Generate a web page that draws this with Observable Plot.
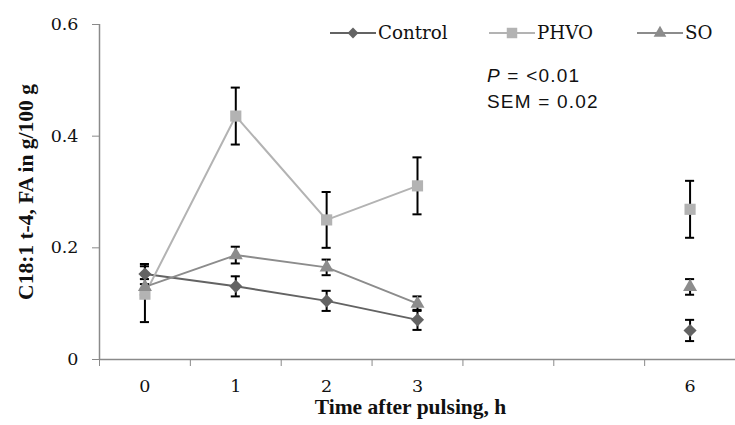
<!DOCTYPE html>
<html>
<head>
<meta charset="utf-8">
<script src="https://cdn.jsdelivr.net/npm/d3@7"></script>
<script src="https://cdn.jsdelivr.net/npm/@observablehq/plot@0.6"></script>
<style>
  body { margin: 0; background: #fff; }
  #wrap { position: relative; width: 735px; height: 425px; font-family: "DejaVu Serif", serif; }
  #wrap svg { display: block; }
  g[aria-label="y-axis label"] text {
    font-weight: bold; font-family: "Liberation Serif", serif; font-size: 21.5px;
  }
  .legend { position: absolute; top: 0; left: 0; font-size: 18.3px; color: #111; }
  .legend .item { position: absolute; top: 22px; display: flex; align-items: center; white-space: nowrap; }
  .legend svg { margin-right: 2px; }
  .note { position: absolute; left: 487px; top: 63px; font-family: "Liberation Sans", Arial, sans-serif;
          font-size: 19px; letter-spacing: 1.2px; line-height: 26px; color: #111; }
</style>
</head>
<body>
<div id="wrap"></div>
<script>
const hours = [0, 1, 2, 3, 6];
const controlMean = [0.153, 0.131, 0.105, 0.071, 0.052];
const controlSE   = [0.018, 0.018, 0.018, 0.018, 0.019];
const phvoMean    = [0.117, 0.436, 0.250, 0.311, 0.269];
const phvoSE      = [0.050, 0.051, 0.050, 0.051, 0.051];
const soMean      = [0.130, 0.187, 0.165, 0.100, 0.130];
const soSE        = [0.014, 0.015, 0.014, 0.013, 0.014];
const xTickLabels = [0, 1, 2, 3, 6];
const yTicks = [0, 0.2, 0.4, 0.6];
const xTitle = "Time after pulsing, h";
const yTitle = "C18:1 t-4, FA in g/100 g";
const seriesNames = ["Control", "PHVO", "SO"];
const seriesColors = ["#636363", "#b3b3b3", "#8c8c8c"];
const seriesSymbols = ["diamond2", "square", "triangle"];

const mk = (mean, se, name) => hours.map((h, i) => ({x: h, y: mean[i], se: se[i], series: name}));
const control = mk(controlMean, controlSE, "Control");
const phvo = mk(phvoMean, phvoSE, "PHVO");
const so = mk(soMean, soSE, "SO");
const all = [...control, ...phvo, ...so];
const connected = d => d.x <= 3;

const capHalf = 0.05;

const plot = Plot.plot({
  width: 735,
  height: 425,
  marginLeft: 99,
  marginRight: 0,
  marginTop: 24,
  marginBottom: 66,
  style: {fontFamily: "DejaVu Serif, serif", fontSize: "17.5px", color: "#111", background: "#fff"},
  x: {domain: [-0.5, 6.5]},
  y: {domain: [0, 0.6]},
  marks: [
    Plot.ruleY([0], {stroke: "#8a8a8a", strokeWidth: 1.5}),
    Plot.ruleX([-0.5], {stroke: "#8a8a8a", strokeWidth: 1.5}),
    Plot.axisY({ticks: yTicks, tickSize: 7, tickPadding: 14, stroke: "#8a8a8a",
      tickFormat: d => d === 0 ? "0" : d.toFixed(1),
      label: yTitle, labelAnchor: "center", labelArrow: "none", labelOffset: 82}),
    Plot.axisX({ticks: d3.range(-0.5, 7, 1), tickSize: 7, stroke: "#8a8a8a", tickFormat: () => "", label: null}),
    Plot.axisX({ticks: xTickLabels, tickSize: 0, tickPadding: 20, tickFormat: d => String(d), label: null}),
    Plot.text([xTitle], {text: d => d, frameAnchor: "bottom", dx: -7, dy: 54,
      fontFamily: "Liberation Serif, serif", fontSize: 21.5, fontWeight: "bold", fill: "#111"}),
    Plot.line(control.filter(connected), {x: "x", y: "y", stroke: seriesColors[0], strokeWidth: 2}),
    Plot.line(phvo.filter(connected), {x: "x", y: "y", stroke: seriesColors[1], strokeWidth: 2}),
    Plot.line(so.filter(connected), {x: "x", y: "y", stroke: seriesColors[2], strokeWidth: 2}),
    Plot.ruleX(all, {x: "x", y1: d => d.y - d.se, y2: d => d.y + d.se, stroke: "#000", strokeWidth: 2}),
    Plot.ruleY(all, {y: d => d.y - d.se, x1: d => d.x - capHalf, x2: d => d.x + capHalf, stroke: "#000", strokeWidth: 2}),
    Plot.ruleY(all, {y: d => d.y + d.se, x1: d => d.x - capHalf, x2: d => d.x + capHalf, stroke: "#000", strokeWidth: 2}),
    Plot.dot(phvo, {x: "x", y: "y", symbol: "square", r: 6.3, fill: seriesColors[1], stroke: "none"}),
    Plot.dot(control, {x: "x", y: "y", symbol: "diamond2", r: 5.9, fill: seriesColors[0], stroke: "none"}),
    Plot.dot(so, {x: "x", y: "y", symbol: "triangle", r: 5.2, fill: seriesColors[2], stroke: "none"})
  ]
});

const wrap = document.getElementById("wrap");
wrap.appendChild(plot);

// Legend (inside the plot area, top right)
const legend = document.createElement("div");
legend.className = "legend";
const symPaths = {
  diamond2: d3.symbol(d3.symbolDiamond2, 75)(),
  square: d3.symbol(d3.symbolSquare, 110)(),
  triangle: d3.symbol(d3.symbolTriangle, 70)()
};
const legendLeft = [330, 489, 637];
seriesNames.forEach((name, i) => {
  const item = document.createElement("div");
  item.className = "item";
  item.style.left = legendLeft[i] + "px";
  item.innerHTML = `<svg width="46" height="20" viewBox="-23 -10 46 20">
      <line x1="-23" x2="23" y1="0" y2="0" stroke="${seriesColors[i]}" stroke-width="2"/>
      <path d="${symPaths[seriesSymbols[i]]}" fill="${seriesColors[i]}"/>
    </svg><span>${name}</span>`;
  legend.appendChild(item);
});
wrap.appendChild(legend);

const note = document.createElement("div");
note.className = "note";
note.innerHTML = `<div><i>P</i> = &lt;0.01</div><div>SEM = 0.02</div>`;
wrap.appendChild(note);
</script>
</body>
</html>
